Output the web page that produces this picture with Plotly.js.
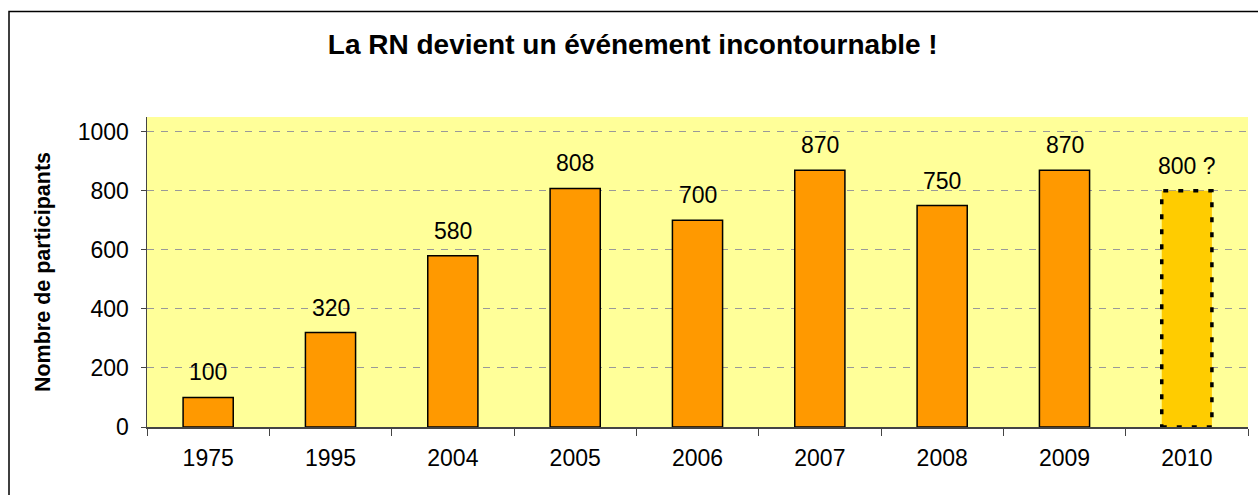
<!DOCTYPE html>
<html>
<head>
<meta charset="utf-8">
<script src="https://cdn.plot.ly/plotly-3.0.1.min.js"></script>
<style>
html,body{margin:0;padding:0;background:#fff;}
#chart{width:1258px;height:495px;}
</style>
</head>
<body>
<div id="chart"></div>
<script>
const years = ["1975","1995","2004","2005","2006","2007","2008","2009","2010"];
const participants = [100,320,580,808,700,870,750,870,800];
const labels = ["100","320","580","808","700","870","750","870","800 ?"];
const projected = [false,false,false,false,false,false,false,false,true];

const barWidth = 0.41;
const FONT = "Liberation Sans, Arial, sans-serif";

const colors = projected.map(p => p ? "#FFCC00" : "#FF9900");
const lineWidths = projected.map(p => p ? 0 : 1.5);

const trace = {
  type: "bar",
  x: years,
  y: participants,
  width: barWidth,
  marker: {color: colors, line: {color: "#000000", width: lineWidths}},
  hoverinfo: "skip"
};

const annotations = years.map((yr, i) => ({
  x: i, y: participants[i], xref: "x", yref: "y",
  text: labels[i], showarrow: false, yanchor: "bottom", yshift: 10,
  font: {family: FONT, size: 23, color: "#000"}
}));

const shapes = [];
years.forEach((yr, i) => {
  if (projected[i]) {
    shapes.push({
      type: "rect", xref: "x", yref: "y",
      x0: i - barWidth / 2, x1: i + barWidth / 2, y0: 0, y1: participants[i],
      line: {color: "#000", width: 3.5, dash: "5px,10px"},
      fillcolor: "rgba(0,0,0,0)", layer: "above"
    });
  }
});
// outer chart border
shapes.push({
  type: "rect", xref: "paper", yref: "paper",
  x0: (9 - 147) / 1101, x1: (1270 - 147) / 1101,
  y0: (427 - 510) / 310, y1: (427 - 11.5) / 310,
  line: {color: "#000", width: 1.5}, fillcolor: "rgba(0,0,0,0)"
});

const layout = {
  width: 1258, height: 495,
  margin: {l: 147, r: 10, t: 117, b: 68},
  paper_bgcolor: "#ffffff",
  plot_bgcolor: "#FFFF99",
  font: {family: FONT, color: "#000"},
  title: {
    text: "<b>La RN devient un événement incontournable !</b>",
    font: {family: FONT, size: 28, color: "#000"},
    x: 0.503, xref: "container", xanchor: "center", y: 0.911, yanchor: "middle"
  },
  showlegend: false,
  xaxis: {
    type: "category", range: [-0.5, 8.5],
    showline: true, linecolor: "#444", linewidth: 1.5,
    ticks: "outside", ticklen: 7, tickcolor: "#444", tickson: "boundaries",
    tickfont: {family: FONT, size: 23, color: "#000"},
    ticklabelstandoff: 10,
    showgrid: false, zeroline: false, fixedrange: true
  },
  yaxis: {
    range: [0, 1050], tickvals: [0,200,400,600,800,1000],
    showline: true, linecolor: "#444", linewidth: 1.5,
    ticks: "outside", ticklen: 5, tickcolor: "#444",
    tickfont: {family: FONT, size: 23, color: "#000"},
    ticklabelstandoff: 7,
    showgrid: true, gridcolor: "#999999", gridwidth: 1, griddash: "7px,7px",
    zeroline: false, fixedrange: true,
    title: {text: "<b>Nombre de participants</b>", font: {family: FONT, size: 21.5, color: "#000"}, standoff: 21}
  },
  annotations: annotations,
  shapes: shapes,
  bargap: 0.59
};

Plotly.newPlot("chart", [trace], layout, {displayModeBar: false, staticPlot: true});
</script>
</body>
</html>
